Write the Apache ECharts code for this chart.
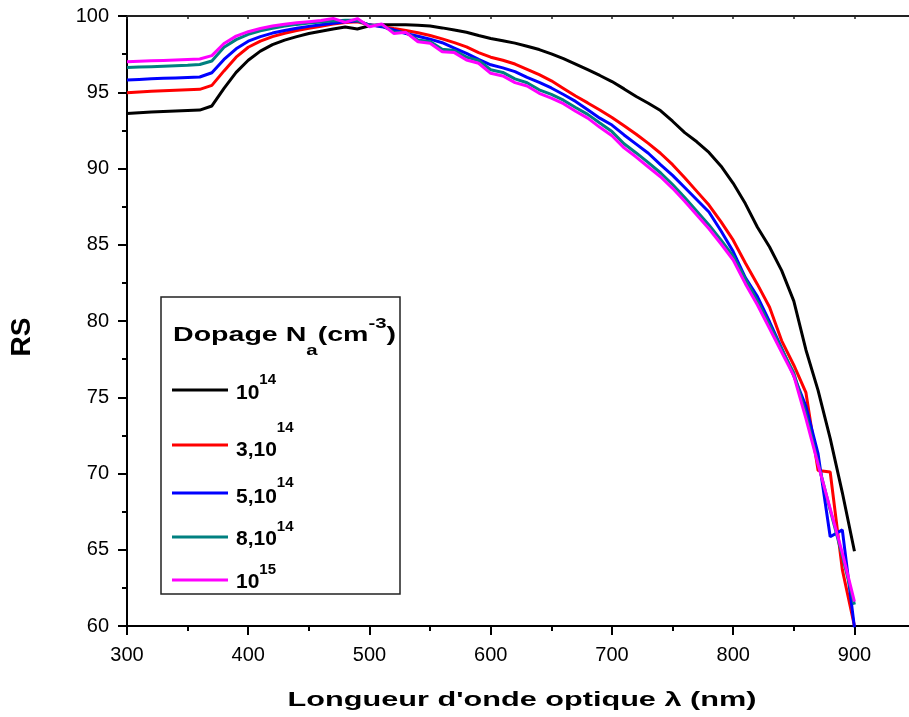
<!DOCTYPE html>
<html>
<head>
<meta charset="utf-8">
<title>RS en fonction de la longueur d'onde</title>
<script src="https://cdn.jsdelivr.net/npm/echarts@6/dist/echarts.min.js"></script>
<style>
  html, body { margin: 0; padding: 0; background: #ffffff; }
  #chart { width: 909px; height: 717px; }
</style>
</head>
<body>
<div id="chart"></div>
<script>
// Longueur d'onde (nm)
const wavelength = [
  300, 310, 320, 330, 340, 350, 360, 370, 380, 390,
  400, 410, 420, 430, 440, 450, 460, 470, 480, 490,
  500, 510, 520, 530, 540, 550, 560, 570, 580, 590,
  600, 610, 620, 630, 640, 650, 660, 670, 680, 690,
  700, 710, 720, 730, 740, 750, 760, 770, 780, 790,
  800, 810, 820, 830, 840, 850, 860, 870, 880, 890,
  900
];

// RS pour chaque dopage Na (cm^-3)
const rs_1e14 = [
  93.60, 93.65, 93.70, 93.74, 93.77, 93.80, 93.83, 94.10, 95.25, 96.30,
  97.10, 97.70, 98.12, 98.42, 98.65, 98.85, 99.00, 99.15, 99.28, 99.15,
  99.36, 99.42, 99.43, 99.43, 99.40, 99.34, 99.22, 99.08, 98.93, 98.72,
  98.52, 98.38, 98.22, 98.02, 97.80, 97.52, 97.20, 96.85, 96.48, 96.10,
  95.70, 95.22, 94.72, 94.28, 93.80, 93.10, 92.35, 91.75, 91.05, 90.15,
  89.03, 87.70, 86.15, 84.85, 83.30, 81.30, 78.10, 75.45, 72.30, 68.75,
  64.90
];
const rs_3e14 = [
  94.97, 95.02, 95.06, 95.10, 95.13, 95.16, 95.19, 95.45, 96.40, 97.30,
  97.95, 98.35, 98.65, 98.87, 99.05, 99.20, 99.33, 99.47, 99.58, 99.62,
  99.42, 99.32, 99.18, 99.05, 98.90, 98.72, 98.50, 98.25, 97.98, 97.60,
  97.30, 97.10, 96.85, 96.50, 96.15, 95.75, 95.25, 94.75, 94.30, 93.84,
  93.35, 92.80, 92.25, 91.65, 91.00, 90.25, 89.40, 88.50, 87.60, 86.50,
  85.30, 83.80, 82.40, 80.90, 78.70, 77.10, 75.30, 70.20, 70.10, 63.70,
  60.00
];
const rs_5e14 = [
  95.80, 95.84, 95.88, 95.91, 95.94, 95.97, 96.00, 96.28, 97.15, 97.85,
  98.35, 98.65, 98.88, 99.05, 99.20, 99.32, 99.42, 99.52, 99.62, 99.68,
  99.42, 99.30, 99.08, 98.85, 98.67, 98.48, 98.25, 97.90, 97.55, 97.15,
  96.80, 96.60, 96.35, 95.98, 95.65, 95.28, 94.85, 94.40, 93.85, 93.30,
  92.85, 92.20, 91.60, 91.00, 90.25, 89.55, 88.75, 87.95, 87.15, 85.90,
  84.55, 82.85, 81.60, 79.95, 78.20, 76.40, 74.40, 71.30, 65.85, 66.30,
  59.90
];
const rs_8e14 = [
  96.62, 96.65, 96.68, 96.71, 96.74, 96.77, 96.82, 97.05, 97.95, 98.45,
  98.80, 99.03, 99.20, 99.34, 99.45, 99.54, 99.61, 99.68, 99.72, 99.72,
  99.38, 99.42, 98.95, 98.92, 98.42, 98.32, 97.82, 97.74, 97.30, 97.08,
  96.48, 96.30, 95.88, 95.62, 95.16, 94.86, 94.48, 94.00, 93.55, 92.98,
  92.42, 91.62, 91.02, 90.38, 89.72, 88.95, 88.10, 87.20, 86.30, 85.30,
  84.25, 82.75, 81.30, 79.75, 78.15, 76.60, 73.90, 70.70, 67.60, 64.60,
  61.40
];
const rs_1e15 = [
  97.00, 97.03, 97.06, 97.09, 97.12, 97.15, 97.18, 97.40, 98.20, 98.68,
  98.97, 99.18, 99.34, 99.46, 99.56, 99.63, 99.70, 99.84, 99.58, 99.83,
  99.30, 99.48, 98.86, 98.93, 98.31, 98.21, 97.66, 97.60, 97.11, 96.90,
  96.24, 96.07, 95.63, 95.41, 94.93, 94.62, 94.25, 93.75, 93.30, 92.70,
  92.15, 91.35, 90.75, 90.10, 89.46, 88.70, 87.85, 86.95, 86.05, 85.05,
  84.00, 82.45, 81.05, 79.50, 77.95, 76.40, 73.60, 70.60, 67.70, 64.80,
  61.60
];

// Légende : mantisse et exposant de chaque dopage
const seriesNames = ['1e14', '3e14', '5e14', '8e14', '1e15'];
const legendBase = ['10', '3,10', '5,10', '8,10', '10'];
const legendExp = ['14', '14', '14', '14', '15'];

// Graduations
const xTicks = [300, 400, 500, 600, 700, 800, 900];
const xMinorTicks = [350, 450, 550, 650, 750, 850];
const xTopTicks = [300, 350, 400, 450, 500, 550, 600, 650, 700, 750, 800, 850, 900];
const yTicks = [60, 65, 70, 75, 80, 85, 90, 95, 100];

const seriesValues = [rs_1e14, rs_3e14, rs_5e14, rs_8e14, rs_1e15];
const seriesColors = ['#000000', '#ff0000', '#0000ff', '#008080', '#ff00ff'];

const FONT = "'Liberation Sans', Arial, Helvetica, sans-serif";
const GRID = { left: 127, top: 16, right: 0, bottom: 91 };
const X_MIN = 300, X_MAX = 945;

// vertical placement of each legend row: line centre, base/exponent offsets
const legendRowY = [390, 445, 493, 537, 580];
const legendBasePad = [6, 10, 8, 4, 4];
const legendSupPad = [20, 34, 20, 20, 20];

const chart = echarts.init(document.getElementById('chart'), null, { renderer: 'canvas' });

const series = seriesNames.map((name, i) => ({
  name: name,
  type: 'line',
  xAxisIndex: 0,
  yAxisIndex: 0,
  data: wavelength.map((w, k) => [w, seriesValues[i][k]]),
  symbol: 'none',
  smooth: false,
  clip: true,
  lineStyle: { width: 3, color: seriesColors[i] },
  itemStyle: { color: seriesColors[i] },
  emphasis: { disabled: true },
  z: 2 + i
}));

const legends = seriesNames.map((name, i) => {
  const H = 15 + legendSupPad[i];
  return {
    data: [name],
    left: 172,
    top: legendRowY[i] - H / 2,
    padding: 0,
    itemWidth: 56,
    itemHeight: 3,
    icon: 'rect',
    selectedMode: false,
    formatter: () => '{b|' + legendBase[i] + '}{s|' + legendExp[i] + '}',
    textStyle: {
      rich: {
        b: {
          fontSize: 21, fontWeight: 'bold', fontFamily: FONT, color: '#000',
          verticalAlign: 'middle', padding: [legendBasePad[i], 0, 0, 3]
        },
        s: {
          fontSize: 15, fontWeight: 'bold', fontFamily: FONT, color: '#000',
          verticalAlign: 'top', padding: [0, 0, legendSupPad[i], 0]
        }
      }
    }
  };
});

const option = {
  animation: false,
  backgroundColor: '#ffffff',
  grid: [
    Object.assign({ containLabel: false }, GRID),
    Object.assign({ containLabel: false }, GRID)
  ],
  xAxis: [
    {
      // main bottom axis with labels and major ticks
      type: 'value', gridIndex: 0, position: 'bottom',
      min: X_MIN, max: X_MAX, interval: 100,
      axisLine: { show: true, onZero: false, lineStyle: { color: '#000', width: 2 } },
      axisTick: { show: true, inside: false, length: 9, customValues: xTicks,
                  lineStyle: { color: '#000', width: 2 } },
      axisLabel: {
        show: true, margin: 19, fontSize: 20, fontFamily: FONT, color: '#000',
        customValues: xTicks,
        formatter: (v) => (xTicks.indexOf(v) >= 0 ? String(v) : '')
      },
      splitLine: { show: false }
    },
    {
      // top frame line with small inner ticks
      type: 'value', gridIndex: 0, position: 'top',
      min: X_MIN, max: X_MAX, interval: 50,
      axisLine: { show: true, onZero: false, lineStyle: { color: '#222', width: 2 } },
      axisTick: { show: true, inside: true, length: 3, customValues: xTopTicks,
                  lineStyle: { color: '#222', width: 1.5 } },
      axisLabel: { show: false },
      splitLine: { show: false }
    },
    {
      // minor ticks of the bottom axis
      type: 'value', gridIndex: 1, position: 'bottom',
      min: X_MIN, max: X_MAX, interval: 50,
      axisLine: { show: false, onZero: false },
      axisTick: { show: true, inside: false, length: 5, customValues: xMinorTicks,
                  lineStyle: { color: '#000', width: 2 } },
      axisLabel: { show: false },
      splitLine: { show: false }
    }
  ],
  yAxis: [
    {
      type: 'value', gridIndex: 0, position: 'left',
      min: 60, max: 100, interval: 5,
      axisLine: { show: true, onZero: false, lineStyle: { color: '#000', width: 2 } },
      axisTick: { show: true, inside: false, length: 9, lineStyle: { color: '#000', width: 2 } },
      minorTick: { show: true, splitNumber: 2, length: 5, lineStyle: { color: '#000', width: 2 } },
      axisLabel: {
        show: true, margin: 18, fontSize: 20, fontFamily: FONT, color: '#000',
        formatter: (v) => (yTicks.indexOf(v) >= 0 ? String(v) : '')
      },
      splitLine: { show: false }
    },
    {
      type: 'value', gridIndex: 1, show: false, min: 60, max: 100
    }
  ],
  legend: legends,
  graphic: [
    {
      type: 'rect', z: 1,
      shape: { x: 161, y: 297, width: 239, height: 297 },
      style: { fill: '#ffffff', stroke: '#222222', lineWidth: 1.5 }
    },
    {
      type: 'text', z: 10,
      x: 173, y: 337.25, scaleX: 1.36,
      style: {
        text: '{b|Dopage N}{sub|a}{b|(cm}{sup|-3}{b|)}',
        align: 'left', verticalAlign: 'middle',
        rich: {
          b: { fontSize: 21, fontWeight: 'bold', fontFamily: FONT, fill: '#000',
               verticalAlign: 'middle', padding: [0, 0, 3.5, 0] },
          sub: { fontSize: 15, fontWeight: 'bold', fontFamily: FONT, fill: '#000',
                 verticalAlign: 'bottom', padding: [27.5, 0, 0, 0] },
          sup: { fontSize: 15, fontWeight: 'bold', fontFamily: FONT, fill: '#000',
                 verticalAlign: 'top', padding: [0, 0, 27.5, 0] }
        }
      }
    },
    {
      type: 'text', z: 10,
      x: 522, y: 700, scaleX: 1.46,
      style: {
        text: "Longueur d'onde optique \u03bb (nm)",
        fontSize: 21, fontWeight: 'bold', fontFamily: FONT, fill: '#000',
        align: 'center', verticalAlign: 'middle'
      }
    },
    {
      type: 'text', z: 10,
      x: 22, y: 337, rotation: Math.PI / 2,
      style: {
        text: 'RS',
        fontSize: 28, fontWeight: 'bold', fontFamily: FONT, fill: '#000',
        align: 'center', verticalAlign: 'middle'
      }
    }
  ],
  series: series
};

chart.setOption(option);
</script>
</body>
</html>
